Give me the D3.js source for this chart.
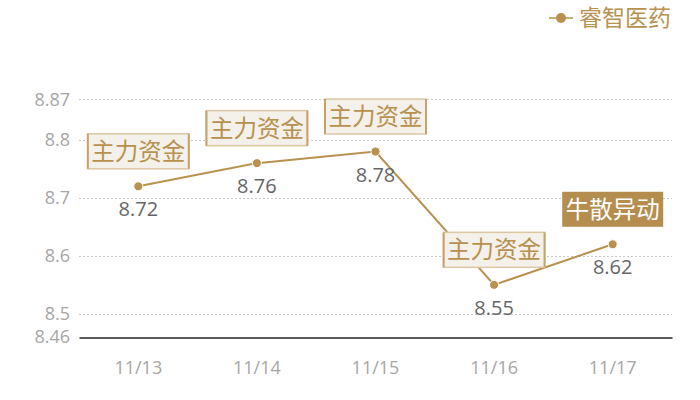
<!DOCTYPE html>
<html>
<head>
<meta charset="utf-8">
<script src="https://cdn.jsdelivr.net/npm/d3@7"></script>
<style>
  html, body { margin: 0; padding: 0; background: #fff; }
  svg { display: block; font-family: "Noto Sans CJK SC", "Noto Sans", sans-serif; }
</style>
</head>
<body>
<div id="chart"></div>
<script>
// data
const dates = ['11/13', '11/14', '11/15', '11/16', '11/17'];
const prices = [8.72, 8.76, 8.78, 8.55, 8.62];
const tags = ['主力资金', '主力资金', '主力资金', '主力资金', '牛散异动'];
const tagFilled = [false, false, false, false, true];
const yTicks = [8.46, 8.5, 8.6, 8.7, 8.8, 8.87];
const seriesName = '睿智医药';

const width = 700, height = 400;
const gold = '#b8914f';
const numFont = '"Open Sans", "Noto Sans", sans-serif';

const svg = d3.select('#chart')
    .append('svg')
    .attr('width', width)
    .attr('height', height);

const x = d3.scaleBand()
    .domain(dates)
    .range([79, 672]);

const y = d3.scaleLinear()
    .domain([8.46, 8.87])
    .range([337, 99.4]);

// grid lines
svg.append('g')
    .selectAll('line')
    .data(yTicks.filter(d => d !== 8.46))
    .join('line')
    .attr('x1', 79)
    .attr('x2', 672)
    .attr('y1', d => Math.round(y(d)) + 0.5)
    .attr('y2', d => Math.round(y(d)) + 0.5)
    .attr('stroke', '#c8c8c8')
    .attr('stroke-dasharray', '2,2');

// y axis labels
const yAxis = svg.append('g')
    .attr('transform', 'translate(79,0)')
    .call(d3.axisLeft(y).tickValues(yTicks).tickSize(0).tickPadding(9).tickFormat(d => String(d)));
yAxis.select('.domain').remove();
yAxis.selectAll('text')
    .attr('fill', '#a6a6a6')
    .style('font-size', '18px')
    .style('font-family', numFont);

// x axis
const xAxis = svg.append('g')
    .attr('transform', `translate(0,${Math.round(y(8.46)) + 0.5})`)
    .call(d3.axisBottom(x).tickSize(0).tickPadding(24));
xAxis.select('.domain')
    .attr('stroke', '#222')
    .attr('stroke-width', 1.3);
xAxis.selectAll('text')
    .attr('fill', '#a6a6a6')
    .style('font-size', '18px')
    .style('font-family', numFont);

const pts = dates.map((d, i) => ({ date: d, value: prices[i], tag: tags[i], filled: tagFilled[i] }));
const cx = d => x(d.date) + x.bandwidth() / 2;

// line
const line = d3.line()
    .x(cx)
    .y(d => y(d.value));

svg.append('path')
    .datum(pts)
    .attr('d', line)
    .attr('fill', 'none')
    .attr('stroke', gold)
    .attr('stroke-width', 2);

// points
svg.append('g')
    .selectAll('circle')
    .data(pts)
    .join('circle')
    .attr('cx', cx)
    .attr('cy', d => y(d.value))
    .attr('r', 4.5)
    .attr('fill', gold)
    .attr('stroke', '#fff')
    .attr('stroke-width', 1);

// value labels
svg.append('g')
    .selectAll('text')
    .data(pts)
    .join('text')
    .attr('x', cx)
    .attr('y', d => y(d.value) + 30)
    .attr('text-anchor', 'middle')
    .attr('fill', '#666')
    .style('font-size', '20px')
    .style('font-family', numFont)
    .text(d => d.value.toFixed(2));

// tag boxes
const boxW = 101, boxH = 35;
const tagG = svg.append('g')
    .selectAll('g')
    .data(pts)
    .join('g')
    .attr('transform', d => `translate(${cx(d) - boxW / 2},${y(d.value) - 35 - boxH / 2})`);

tagG.append('rect')
    .attr('width', boxW)
    .attr('height', boxH)
    .attr('fill', d => d.filled ? '#b58d4e' : '#f4f0ea')
    .attr('stroke', d => d.filled ? 'none' : '#dcc7a3')
    .attr('stroke-width', 1.5);

// darker side edges on the outlined boxes
tagG.filter(d => !d.filled)
    .selectAll('line')
    .data([0, boxW])
    .join('line')
    .attr('x1', d => d)
    .attr('x2', d => d)
    .attr('y1', 0)
    .attr('y2', boxH)
    .attr('stroke', '#c6a26a')
    .attr('stroke-width', 2);

tagG.append('text')
    .attr('x', boxW / 2)
    .attr('y', boxH / 2)
    .attr('dy', '0.36em')
    .attr('text-anchor', 'middle')
    .attr('fill', d => d.filled ? '#fff' : gold)
    .style('font-size', '23.5px')
    .text(d => d.tag);

// legend
const legend = svg.append('g').attr('transform', 'translate(549,18)');
legend.append('line')
    .attr('x1', 0).attr('x2', 24)
    .attr('y1', 0).attr('y2', 0)
    .attr('stroke', gold)
    .attr('stroke-width', 1.5);
legend.append('circle')
    .attr('cx', 12).attr('cy', 0)
    .attr('r', 5)
    .attr('fill', gold);
legend.append('text')
    .attr('x', 30)
    .attr('y', 0)
    .attr('dy', '0.36em')
    .attr('fill', gold)
    .style('font-size', '23px')
    .text(seriesName);
</script>
</body>
</html>
